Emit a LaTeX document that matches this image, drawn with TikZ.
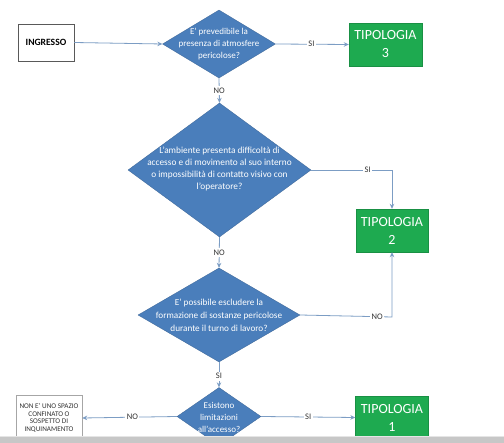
\documentclass[tikz,border=0pt]{standalone}
\usepackage{fontspec}
\setmainfont{Carlito}
\usetikzlibrary{shapes.geometric,arrows.meta}
\definecolor{dblue}{HTML}{4A7EBB}
\definecolor{tgreen}{HTML}{1EAA50}
\definecolor{lineblue}{HTML}{7C9DC4}
\definecolor{labgray}{HTML}{333333}
\begin{document}
\begin{tikzpicture}[x=1pt,y=-1pt,
  dia/.style={shape=diamond,fill=dblue,draw=dblue!80!black,line width=0.3pt,inner sep=0pt,aspect=1},
  dtext/.style={text=white,align=center,font=\fontsize{9}{12}\selectfont,inner sep=0pt},
  tipo/.style={rectangle,fill=tgreen,draw=tgreen!85!black,line width=0.4pt,text=white,align=center,inner sep=0pt,font=\fontsize{14}{18}\selectfont},
  plain/.style={rectangle,draw=black!65,line width=0.5pt,fill=white,inner sep=0pt,align=center},
  conn/.style={draw=lineblue,line width=0.8pt,-{Stealth[length=5pt,width=4.5pt]}},
  lab/.style={fill=white,text=labgray,inner sep=1.5pt,font=\fontsize{8.5}{10}\selectfont}
]
\useasboundingbox (0,0) rectangle (504,443);
\fill[white] (0,0) rectangle (504,443);

% nodes
\node[plain,minimum width=56pt,minimum height=37pt,font=\bfseries\fontsize{9.6}{11}\selectfont] (ing) at (46,42.5) {INGRESSO};
\node[dia,minimum width=113pt,minimum height=68pt] (d1) at (219,44) {};
\node[dtext] at (d1) {E' prevedibile la\\presenza di atmosfere\\pericolose?};
\node[tipo,minimum width=73pt,minimum height=43pt] (t3) at (385.5,44.5) {TIPOLOGIA\\3};

\node[dia,minimum width=183pt,minimum height=134pt] (d2) at (219.5,170) {};
\node[dtext,font=\fontsize{9.3}{12.3}\selectfont] at ([yshift=1pt]d2.center) {L'ambiente presenta difficoltà di\\accesso e di movimento al suo interno\\o impossibilità di contatto visivo con\\l'operatore?};
\node[tipo,minimum width=72pt,minimum height=43pt] (t2) at (392,230.5) {TIPOLOGIA\\2};

\node[dia,minimum width=162pt,minimum height=94pt] (d3) at (219,315) {};
\node[dtext,font=\fontsize{9.2}{13}\selectfont] at (d3) {E' possibile escludere la\\formazione di sostanze pericolose\\durante il turno di lavoro?};

\node[dia,minimum width=84pt,minimum height=58pt] (d4) at (219,416.5) {};
\node[dtext] at ([yshift=-1pt]d4.center) {Esistono\\limitazioni\\all'accesso?};
\node[tipo,minimum width=73pt,minimum height=43pt] (t1) at (392,417.5) {TIPOLOGIA\\1};
\node[plain,draw=black!35,minimum width=66pt,minimum height=46pt,text=black!80,font=\fontsize{7.2}{7.7}\selectfont] (nb) at (49,418) {NON E' UNO SPAZIO\\CONFINATO O\\SOSPETTO DI\\INQUINAMENTO};

\coordinate (c2) at (392,170);
\coordinate (c3) at (392,317);

% connectors
\draw[conn] (ing.east) -- (d1.west);
\draw[conn] (d1.east) -- node[lab,pos=0.49]{SI} (t3.west);
\draw[conn] (d1.south) -- node[lab]{NO} (d2.north);
\draw[conn] (d2.east) -- node[lab,pos=0.7]{SI} (c2) -- (t2.north);
\draw[conn] (d2.south) -- node[lab]{NO} (d3.north);
\draw[conn] (d3.east) -- node[lab,pos=0.84]{NO} (c3) -- (t2.south);
\draw[conn] (d3.south) -- node[lab,pos=0.56]{SI} (d4.north);
\draw[conn] (d4.west) -- node[lab,pos=0.47]{NO} (nb.east);
\draw[conn] (d4.east) -- node[lab,pos=0.5]{SI} (t1.west);

% bottom grey bar
\fill[black!22] (0,436) rectangle (504,443);
\fill[black!10] (0,436) rectangle (504,437.2);
\end{tikzpicture}
\end{document}
